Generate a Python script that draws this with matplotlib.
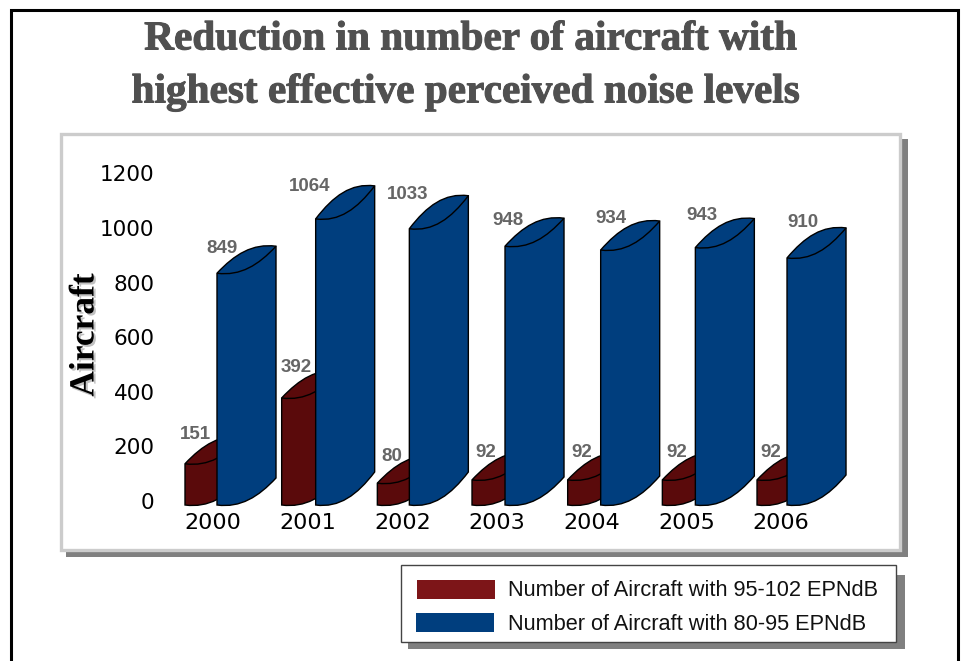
"""Reduction in aircraft with highest noise levels, drawn as skewed 3D style cylinders."""
import matplotlib
matplotlib.use('Agg')
import matplotlib.pyplot as plt
import matplotlib.patheffects as pe
from matplotlib.patches import PathPatch, Rectangle
from matplotlib.path import Path
from matplotlib.transforms import ScaledTranslation

years = ['2000', '2001', '2002', '2003', '2004', '2005', '2006']
high_noise = [151, 392, 80, 92, 92, 92, 92]
low_noise = [849, 1064, 1033, 948, 934, 943, 910]
# the 2001/2002 columns are drawn a bit shorter than their labels say
low_noise_drawn = [849, 1048, 1012, 948, 934, 943, 905]
y_ticks = [0, 200, 400, 600, 800, 1000, 1200]
legend_labels = ['Number of Aircraft with 95-102 EPNdB', 'Number of Aircraft with 80-95 EPNdB']
title_lines = ['Reduction in number of aircraft with', 'highest effective perceived noise levels']

RED = '#5A0A0B'
BLUE = '#003E7E'
LEGEND_RED = '#7D1518'
W, H = 963, 661
PX_PER_CAT = 94.67
PX_PER_VAL = 0.273

# offsets from the category tick, in pixels (the original bars are a bit uneven)
blue_left = [4, 8, 7, 8, 9, 9, 6]
red_left = [-28, -26, -25, -25, -24, -24, -24]
blue_depth = [27, 33, 33, 28, 29, 29, 30]
blue_label = [(5, -25), (-6, -32), (-2, -34), (3, -26), (10, -32), (7, -32), (16, -35)]
red_label = [(10, -29), (15, -30), (14, -27), (14, -27), (14, -27), (14, -27), (14, -27)]

fig = plt.figure(figsize=(W / 100, H / 100), dpi=100)
fig.patch.set_facecolor('white')

# backdrop in pixel coords
bg = fig.add_axes([0, 0, 1, 1])
bg.set_xlim(0, W)
bg.set_ylim(H, 0)
bg.axis('off')

def box(x0, y0, x1, y1, **kw):
    bg.add_patch(Rectangle((x0, y0), x1 - x0, y1 - y0, **kw))

# page frame, open at the bottom
bg.plot([11, 11, 958, 958], [H, 10, 10, H], color='black', lw=2.2, solid_joinstyle='miter')

# chart panel + shadow
box(66, 139, 908, 557, fc='#808080', ec='none')
box(60.5, 133.5, 899.5, 549.5, fc='white', ec='#CCCCCC', lw=2.4)

# legend + shadow
box(408, 575, 905, 649, fc='#808080', ec='none')
box(401, 565, 896, 641.5, fc='white', ec='#444444', lw=1)
box(417, 580, 495, 599, fc=LEGEND_RED, ec='none')
box(416, 613, 494, 632, fc=BLUE, ec='none')
bg.text(508, 591, legend_labels[0], fontsize=15.7, family='Liberation Sans', va='center', color='#111111')
bg.text(508, 624, legend_labels[1], fontsize=15.7, family='Liberation Sans', va='center', color='#111111')

# title
heavier = [pe.withStroke(linewidth=0.7, foreground='#505050')]
bg.text(471, 40, title_lines[0], fontsize=29.7, family='Liberation Serif', weight='bold',
        color='#505050', ha='center', va='center', path_effects=heavier)
bg.text(466, 93, title_lines[1], fontsize=29.7, family='Liberation Serif', weight='bold',
        color='#505050', ha='center', va='center', path_effects=heavier)

bg.text(85, 335, 'Aircraft', fontsize=25.5, family='Liberation Serif', weight='bold', rotation=90,
        ha='center', va='center', color='black',
        path_effects=[pe.withSimplePatchShadow(offset=(1.5, -1.5), shadow_rgbFace='#999999', alpha=0.6)])

# plot axes: 0 at y=505px, 1200 at 505-1200*0.273
ax_left, ax_right = 160, 860
ax_bottom_px = 505
ax_top_px = ax_bottom_px - 1200 * PX_PER_VAL
ax = fig.add_axes([ax_left / W, 1 - ax_bottom_px / H, (ax_right - ax_left) / W, (ax_bottom_px - ax_top_px) / H])
ax.patch.set_alpha(0)
ax.set_xlim((ax_left - 213) / PX_PER_CAT, (ax_right - 213) / PX_PER_CAT)
ax.set_ylim(0, 1200)
for s in ax.spines.values():
    s.set_visible(False)


def cylinder(ax, i, left_px, value, depth_px, color, z):
    w = 59 / PX_PER_CAT
    d = depth_px / PX_PER_VAL
    dip = 3 / PX_PER_VAL
    x0 = i + left_px / PX_PER_CAT
    x1 = x0 + w
    body = [(x0, 0), (x0, value),
            (x0 + 0.3 * w, value + 0.7 * d), (x0 + 0.6 * w, value + d + dip), (x1, value + d),
            (x1, d),
            (x0 + 0.7 * w, 0.3 * d), (x0 + 0.4 * w, -dip), (x0, 0), (x0, 0)]
    codes = [Path.MOVETO, Path.LINETO, Path.CURVE4, Path.CURVE4, Path.CURVE4, Path.LINETO,
             Path.CURVE4, Path.CURVE4, Path.CURVE4, Path.CLOSEPOLY]
    ax.add_patch(PathPatch(Path(body, codes), fc=color, ec='black', lw=1, zorder=z, clip_on=False))
    rim = [(x0, value), (x0 + 0.4 * w, value - dip), (x0 + 0.7 * w, value + 0.3 * d), (x1, value + d)]
    rim_codes = [Path.MOVETO, Path.CURVE4, Path.CURVE4, Path.CURVE4]
    ax.add_patch(PathPatch(Path(rim, rim_codes), fc='none', ec='black', lw=1, zorder=z + 0.1, clip_on=False))
    return x0


for i in range(len(years)):
    rx = cylinder(ax, i, red_left[i], high_noise[i], 27, RED, 2)
    bx = cylinder(ax, i, blue_left[i], low_noise_drawn[i], blue_depth[i], BLUE, 3)
    ax.text(rx + red_label[i][0] / PX_PER_CAT, high_noise[i] - red_label[i][1] / PX_PER_VAL, str(high_noise[i]),
            fontsize=13.5, family='Liberation Sans', weight='bold', color='#666666',
            ha='center', va='center', zorder=5)
    ax.text(bx + blue_label[i][0] / PX_PER_CAT, low_noise_drawn[i] - blue_label[i][1] / PX_PER_VAL, str(low_noise[i]),
            fontsize=13.5, family='Liberation Sans', weight='bold', color='#666666',
            ha='center', va='center', zorder=5)

ax.set_xticks(range(len(years)))
ax.set_xticklabels(years)
ax.set_yticks(y_ticks)
ax.tick_params(axis='y', length=0, labelsize=15.5, colors='black', pad=4)
ax.tick_params(axis='x', length=0, labelsize=16, colors='black', pad=6)
# y labels sit about 4px above their gridline value in the original
shift = ScaledTranslation(0, 4 / 100, fig.dpi_scale_trans)
for lab in ax.get_yticklabels():
    lab.set_transform(lab.get_transform() + shift)

plt.savefig('out.png', dpi=100)
